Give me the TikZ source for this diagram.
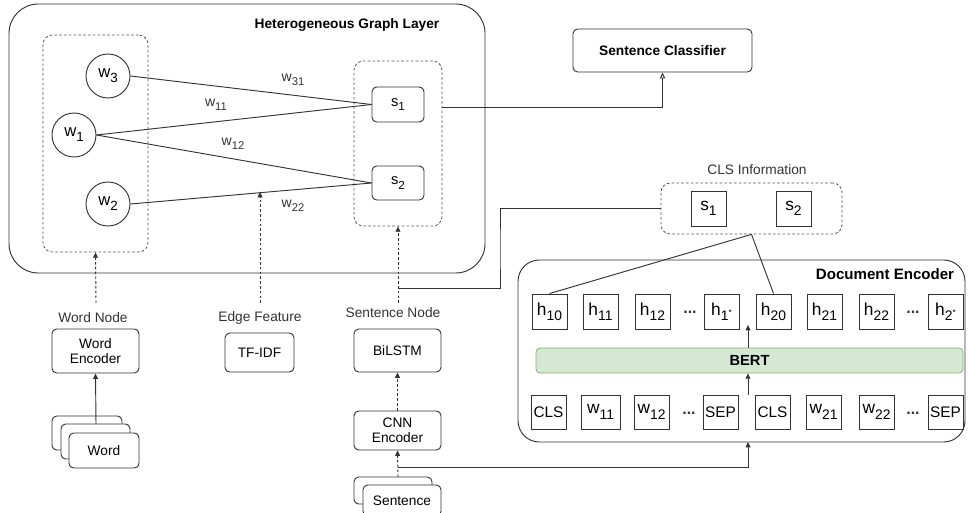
\documentclass[tikz,border=0pt]{standalone}
\usepackage{fontspec}
\setmainfont{Liberation Sans}
\usetikzlibrary{arrows.meta}
\newcommand\lo[1]{\raisebox{-0.3em}{\scalebox{0.8}{#1}}}
\newcommand\placebox[7]{\node[#1, minimum width={(#5-#3)*0.75pt}, minimum height={(#6-#4)*0.75pt}] (#2) at ({(#3+#5)/2},{(#4+#6)/2}) {#7};}
\definecolor{strk}{HTML}{333333}
\definecolor{dstrk}{HTML}{555555}
\definecolor{bertfill}{HTML}{D5E8D4}
\definecolor{bertline}{HTML}{82B366}
\tikzset{
  ln/.style={draw=strk, line width=0.7pt},
  rbox/.style={ln, rounded corners=3.5pt, fill=white, inner sep=0pt, align=center, font=\fontsize{10.3}{11.5}\selectfont},
  sqbox/.style={ln, fill=white, inner sep=0pt, font=\fontsize{13}{14}\selectfont},
  tokbox/.style={ln, fill=white, inner sep=0pt, font=\fontsize{11.5}{13}\selectfont},
  dbox/.style={draw=dstrk, line width=0.6pt, dash pattern=on 2pt off 1.6pt, rounded corners=7pt},
  big/.style={ln, rounded corners=22pt},
  cnode/.style={circle, ln, minimum size=33pt, inner sep=0pt, font=\fontsize{12.5}{13}\selectfont},
  lab/.style={inner sep=0pt, font=\fontsize{10.3}{12}\selectfont, text=strk},
  elab/.style={inner sep=0pt, font=\fontsize{10.5}{12}\selectfont, text=strk},
  ttl/.style={inner sep=0pt, font=\fontsize{10.3}{12}\selectfont\bfseries},
  arr/.style={ln, -{Triangle[length=4pt,width=3.6pt]}},
  oarr/.style={ln, -{Triangle[open,length=4.5pt,width=4pt]}},
  darr/.style={arr, dash pattern=on 2pt off 1.6pt},
}
\begin{document}
\begin{tikzpicture}[x=0.75pt,y=-0.75pt]
\useasboundingbox (0,0) rectangle (969,513);

% Heterogeneous graph layer
\placebox{big}{hgl}{9}{4}{485}{273}{}
\node[ttl] (hgltitle) at (347,25) {Heterogeneous Graph Layer};
\placebox{dbox}{ldash}{43}{35}{148}{252}{}
\placebox{dbox}{rdash}{354}{61}{442}{226}{}
\node[cnode] (w3) at (108,76) {w\lo{3}};
\node[cnode] (w1) at (74,135) {w\lo{1}};
\node[cnode] (w2) at (108,204) {w\lo{2}};
\placebox{rbox,font=\fontsize{11}{12}\selectfont}{s1}{372}{87}{424}{122}{s\lo{1}}
\placebox{rbox,font=\fontsize{11}{12}\selectfont}{s2}{372}{166}{424}{200}{s\lo{2}}
\draw[ln] (w3.east) -- (s1.west);
\draw[ln] (w1.east) -- (s1.west);
\draw[ln] (w1.east) -- (s2.west);
\draw[ln] (w2.east) -- (s2.west);
\node[elab] (l31) at (293,80) {w\lo{31}};
\node[elab] (l11) at (216,105) {w\lo{11}};
\node[elab] (l12) at (233,144) {w\lo{12}};
\node[elab] (l22) at (293,206) {w\lo{22}};

% Sentence classifier
\placebox{rbox,font=\fontsize{10.3}{12}\selectfont\bfseries}{sc}{573}{29}{752}{72}{Sentence Classifier}
\draw[oarr] (rdash.east |- 0,107) -| (sc.south);

% Bottom left inputs
\node[lab] (wordnode) at (93,318) {Word Node};
\coordinate (wn) at (96,303);
\draw[darr] (wn) -- (ldash.south);
\placebox{rbox}{wenc}{52}{329}{139}{373}{Word\\Encoder}
\placebox{rbox}{wb1}{52}{416}{122}{450}{}
\placebox{rbox}{wb2}{61}{424}{130}{459}{}
\placebox{rbox}{word}{69}{433}{139}{468}{Word}
\coordinate (wsrc) at (96,424);
\draw[arr] (wsrc) -- (wenc.south);

\node[lab] (edgefeat) at (260,318) {Edge Feature};
\coordinate (ef) at (260,303);
\coordinate (eft) at (260,192);
\draw[darr] (ef) -- (eft);
\placebox{rbox}{tfidf}{225}{333}{294}{372}{TF-IDF}

\node[lab] (sentnode) at (393,313) {Sentence Node};
\coordinate (sn) at (398,303);
\draw[darr] (sn) -- (rdash.south);
\placebox{rbox}{bilstm}{354}{329}{441}{372}{BiLSTM}
\placebox{rbox}{cnn}{354}{411}{441}{450}{CNN\\Encoder}
\draw[darr] (cnn.north) -- (bilstm.south);
\placebox{rbox}{sb1}{354}{477}{432}{504}{}
\placebox{rbox}{sent}{363}{485}{441}{516}{Sentence}
\coordinate (ssrc) at (398,477);
\draw[darr] (ssrc) -- (cnn.south);

% CLS information
\node[lab] (clsinfo) at (757,170) {CLS Information};
\placebox{dbox}{clsbox}{661}{183}{842}{234}{}
\placebox{sqbox}{cs1}{691}{191}{726}{226}{s\lo{1}}
\placebox{sqbox}{cs2}{776}{191}{811}{226}{s\lo{2}}
\coordinate (jx) at (500,250);
\coordinate (j1) at (398,288);
\draw[ln] (clsbox.west) -| (jx) |- (j1);

% Document encoder
\placebox{ln,rounded corners=16pt}{docenc}{518}{260}{965}{442}{}
\node[ttl,font=\fontsize{11.3}{12}\selectfont\bfseries] (doctitle) at (885,274) {Document Encoder};
\placebox{sqbox}{h10}{532}{294}{567}{329}{h\lo{10}}
\placebox{sqbox}{h11}{583}{294}{618}{329}{h\lo{11}}
\placebox{sqbox}{h12}{635}{294}{670}{329}{h\lo{12}}
\node[lab,font=\fontsize{12}{12}\selectfont\bfseries] (hd1) at (690,312) {...};
\placebox{sqbox}{h1s}{704}{294}{739}{329}{h\lo{1\raisebox{0.35em}{\scalebox{0.6}{*}}}}
\placebox{sqbox}{h20}{756}{294}{791}{329}{h\lo{20}}
\placebox{sqbox}{h21}{807}{294}{842}{329}{h\lo{21}}
\placebox{sqbox}{h22}{859}{294}{894}{329}{h\lo{22}}
\node[lab,font=\fontsize{12}{12}\selectfont\bfseries] (hd2) at (913,312) {...};
\placebox{sqbox}{h2s}{928}{294}{963}{329}{h\lo{2\raisebox{0.35em}{\scalebox{0.6}{*}}}}

\placebox{draw=bertline,line width=0.6pt,fill=bertfill,rounded corners=3pt,inner sep=0pt,font=\fontsize{11}{12}\selectfont\bfseries}{bert}{536}{348}{963}{373}{BERT}

\placebox{tokbox}{t1}{531}{395}{566}{429}{CLS}
\placebox{sqbox}{t2}{581}{395}{620}{429}{w\lo{11}}
\placebox{sqbox}{t3}{634}{395}{669}{429}{w\lo{12}}
\node[lab,font=\fontsize{12}{12}\selectfont\bfseries] (td1) at (689,413) {...};
\placebox{tokbox}{t4}{703}{395}{738}{429}{SEP}
\placebox{tokbox}{t5}{755}{395}{790}{429}{CLS}
\placebox{sqbox}{t6}{806}{395}{841}{429}{w\lo{21}}
\placebox{sqbox}{t7}{859}{395}{894}{429}{w\lo{22}}
\node[lab,font=\fontsize{12}{12}\selectfont\bfseries] (td2) at (913,413) {...};
\placebox{tokbox}{t8}{928}{395}{963}{429}{SEP}

\coordinate (a1) at (748,325);
\coordinate (a2) at (748,395);
\draw[arr] (a1 |- bert.north) -- (a1);
\draw[arr] (a2) -- (a2 |- bert.south);

\draw[ln] (clsbox.south) -- (h10.north);
\draw[ln] (clsbox.south) -- (h20.north);

\coordinate (j2) at (398,467);
\coordinate (a3) at (748,442);
\draw[arr] (j2) -| (a3);
\end{tikzpicture}
\end{document}
